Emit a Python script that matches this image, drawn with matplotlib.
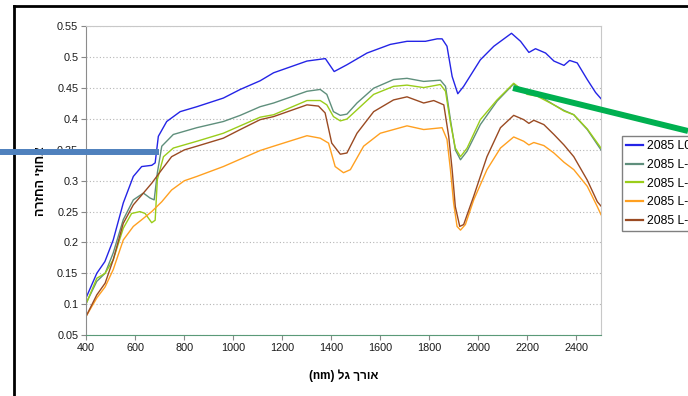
import matplotlib
matplotlib.use("Agg")
import matplotlib.pyplot as plt
from matplotlib.lines import Line2D

plt.rcParams['font.family'] = ['Liberation Sans', 'DejaVu Sans']

# spectra (wavelength nm, reflectance)
wl_l0 = [400, 444, 477, 511, 552, 593, 627, 668, 682, 695, 729, 784, 852, 960, 1029, 1110,
         1165, 1301, 1376, 1412, 1464, 1546, 1641, 1709, 1784, 1832, 1852, 1872, 1893, 1916,
         1940, 2008, 2063, 2135, 2172, 2206, 2233, 2274, 2308, 2349, 2372, 2403, 2444, 2478, 2500]
refl_l0 = [0.110, 0.150, 0.169, 0.204, 0.264, 0.307, 0.323, 0.325, 0.329, 0.372, 0.396, 0.412,
           0.420, 0.434, 0.448, 0.462, 0.475, 0.494, 0.498, 0.477, 0.488, 0.507, 0.521, 0.526,
           0.526, 0.530, 0.530, 0.518, 0.469, 0.441, 0.453, 0.496, 0.518, 0.539, 0.526, 0.508,
           0.514, 0.507, 0.494, 0.487, 0.495, 0.491, 0.464, 0.443, 0.433]

wl_l1 = [400, 444, 478, 511, 552, 593, 634, 661, 678, 691, 709, 756, 852, 960, 1029, 1110,
         1165, 1301, 1355, 1382, 1409, 1437, 1464, 1505, 1573, 1654, 1709, 1777, 1845, 1866,
         1886, 1906, 1927, 1954, 2008, 2076, 2144, 2199, 2240, 2308, 2349, 2389, 2444, 2500]
refl_l1 = [0.101, 0.137, 0.150, 0.183, 0.237, 0.269, 0.280, 0.272, 0.269, 0.313, 0.356, 0.375,
           0.386, 0.396, 0.406, 0.420, 0.426, 0.445, 0.448, 0.440, 0.412, 0.406, 0.408, 0.426,
           0.450, 0.464, 0.466, 0.461, 0.463, 0.453, 0.399, 0.350, 0.334, 0.348, 0.391, 0.429,
           0.457, 0.442, 0.440, 0.423, 0.414, 0.407, 0.383, 0.350]

wl_l2 = [400, 444, 478, 511, 552, 586, 620, 641, 668, 682, 691, 716, 756, 852, 960, 1029,
         1110, 1165, 1301, 1355, 1382, 1409, 1437, 1464, 1505, 1573, 1654, 1709, 1777, 1845,
         1866, 1886, 1906, 1927, 1954, 2008, 2076, 2144, 2199, 2240, 2308, 2349, 2389, 2444, 2500]
refl_l2 = [0.100, 0.142, 0.150, 0.172, 0.223, 0.247, 0.250, 0.247, 0.232, 0.236, 0.302, 0.339,
           0.353, 0.364, 0.377, 0.389, 0.403, 0.407, 0.430, 0.430, 0.423, 0.404, 0.397, 0.400,
           0.415, 0.440, 0.453, 0.455, 0.451, 0.456, 0.445, 0.394, 0.353, 0.339, 0.353, 0.399,
           0.431, 0.458, 0.440, 0.437, 0.423, 0.413, 0.407, 0.384, 0.353]

wl_l3 = [400, 444, 478, 511, 552, 593, 634, 668, 709, 749, 801, 852, 960, 1029, 1110, 1165,
         1301, 1355, 1389, 1416, 1450, 1478, 1532, 1600, 1709, 1777, 1852, 1872, 1886, 1899,
         1913, 1927, 1947, 1981, 2035, 2090, 2144, 2185, 2206, 2226, 2267, 2308, 2349, 2389,
         2444, 2485, 2500]
refl_l3 = [0.080, 0.110, 0.128, 0.156, 0.204, 0.226, 0.239, 0.250, 0.266, 0.285, 0.300, 0.307,
           0.323, 0.335, 0.349, 0.356, 0.373, 0.369, 0.361, 0.323, 0.313, 0.318, 0.356, 0.377,
           0.389, 0.383, 0.386, 0.367, 0.318, 0.264, 0.226, 0.220, 0.229, 0.269, 0.318, 0.353,
           0.371, 0.364, 0.358, 0.362, 0.357, 0.345, 0.330, 0.318, 0.291, 0.258, 0.245]

wl_l4 = [400, 444, 478, 511, 552, 593, 634, 668, 709, 749, 801, 852, 960, 1029, 1110, 1165,
         1301, 1348, 1375, 1402, 1437, 1464, 1505, 1573, 1654, 1709, 1777, 1818, 1859, 1879,
         1893, 1906, 1924, 1940, 1981, 2035, 2090, 2144, 2185, 2206, 2226, 2267, 2308, 2349,
         2389, 2444, 2485, 2500]
refl_l4 = [0.080, 0.115, 0.134, 0.172, 0.231, 0.261, 0.280, 0.296, 0.318, 0.339, 0.350, 0.356,
           0.369, 0.383, 0.399, 0.404, 0.423, 0.421, 0.410, 0.361, 0.343, 0.345, 0.377, 0.412,
           0.431, 0.436, 0.426, 0.430, 0.423, 0.372, 0.318, 0.258, 0.226, 0.229, 0.275, 0.339,
           0.386, 0.406, 0.399, 0.393, 0.398, 0.391, 0.375, 0.358, 0.339, 0.301, 0.266, 0.259]

labels = ["2085 L0", "2085 L-1", "2085 L-2", "2085 L-3", "2085 L-4"]
colors = ["#2424e6", "#5f8f7c", "#9acd1a", "#ffa020", "#9a4a22"]
x_ticks = [400, 600, 800, 1000, 1200, 1400, 1600, 1800, 2000, 2200, 2400]
y_ticks = [0.05, 0.1, 0.15, 0.2, 0.25, 0.3, 0.35, 0.4, 0.45, 0.5, 0.55]

# hebrew labels, reversed into visual order since matplotlib has no bidi
x_title = "(nm) " + "אורך גל"[::-1]
y_title = "אחוזי החזרה"[::-1]

fig = plt.figure(figsize=(6.88, 3.96), dpi=100)
ax = fig.add_axes([86 / 688, 1 - 335 / 396, 515 / 688, 308.5 / 396])

series = [(wl_l0, refl_l0), (wl_l1, refl_l1), (wl_l2, refl_l2), (wl_l3, refl_l3), (wl_l4, refl_l4)]
for (wl, refl), lab, col in zip(series, labels, colors):
    ax.plot(wl, refl, color=col, lw=1.0, label=lab)

ax.set_xlim(400, 2500)
ax.set_ylim(0.05, 0.55)
ax.set_xticks(x_ticks)
ax.set_yticks(y_ticks)
ax.set_yticklabels([f"{v:g}" for v in y_ticks])
ax.tick_params(axis='both', labelsize=7.8, length=3.5, width=0.8, colors='#888888',
               labelcolor='#1a1a1a', pad=2)
ax.grid(axis='y', color='#b5b5b5', lw=0.8, linestyle=(0, (1, 2)))
ax.set_axisbelow(True)
for side in ['top', 'right']:
    ax.spines[side].set_color('#c8c8c8')
    ax.spines[side].set_linewidth(0.8)
ax.spines['left'].set_color('#8c8c8c')
ax.spines['bottom'].set_color('#5a9a78')

ax.set_xlabel(x_title, fontsize=8.5, fontweight='bold')
ax.xaxis.set_label_coords(0.5, -0.112)
ax.set_ylabel(y_title, fontsize=9, fontweight='bold')
ax.yaxis.set_label_coords(-0.076, 0.5)

leg = ax.legend(loc='upper left', bbox_to_anchor=(622 / 688, 1 - 136 / 396),
                bbox_transform=fig.transFigure, borderaxespad=0, fontsize=8.7,
                frameon=True, fancybox=False, edgecolor='#808080', framealpha=1,
                handlelength=1.35, handletextpad=0.35, labelspacing=0.55, borderpad=0.35)
for h in leg.get_lines():
    h.set_linewidth(1.6)

# slide decorations: black frame and the two pointer bars
fig.add_artist(Line2D([14 / 688, 14 / 688], [0, 1 - 6 / 396], color='black', lw=2.0,
                      transform=fig.transFigure))
fig.add_artist(Line2D([14 / 688, 1], [1 - 6 / 396, 1 - 6 / 396], color='black', lw=2.0,
                      transform=fig.transFigure))
fig.add_artist(Line2D([0, 159 / 688], [1 - 152 / 396, 1 - 152 / 396], color='#4f81bd', lw=4.3,
                      solid_capstyle='butt', transform=fig.transFigure, zorder=10))
fig.add_artist(Line2D([513 / 688, 1], [1 - 88 / 396, 1 - 131 / 396], color='#00b050', lw=4.3,
                      solid_capstyle='butt', transform=fig.transFigure, zorder=10))

fig.savefig("out.png", dpi=100)
